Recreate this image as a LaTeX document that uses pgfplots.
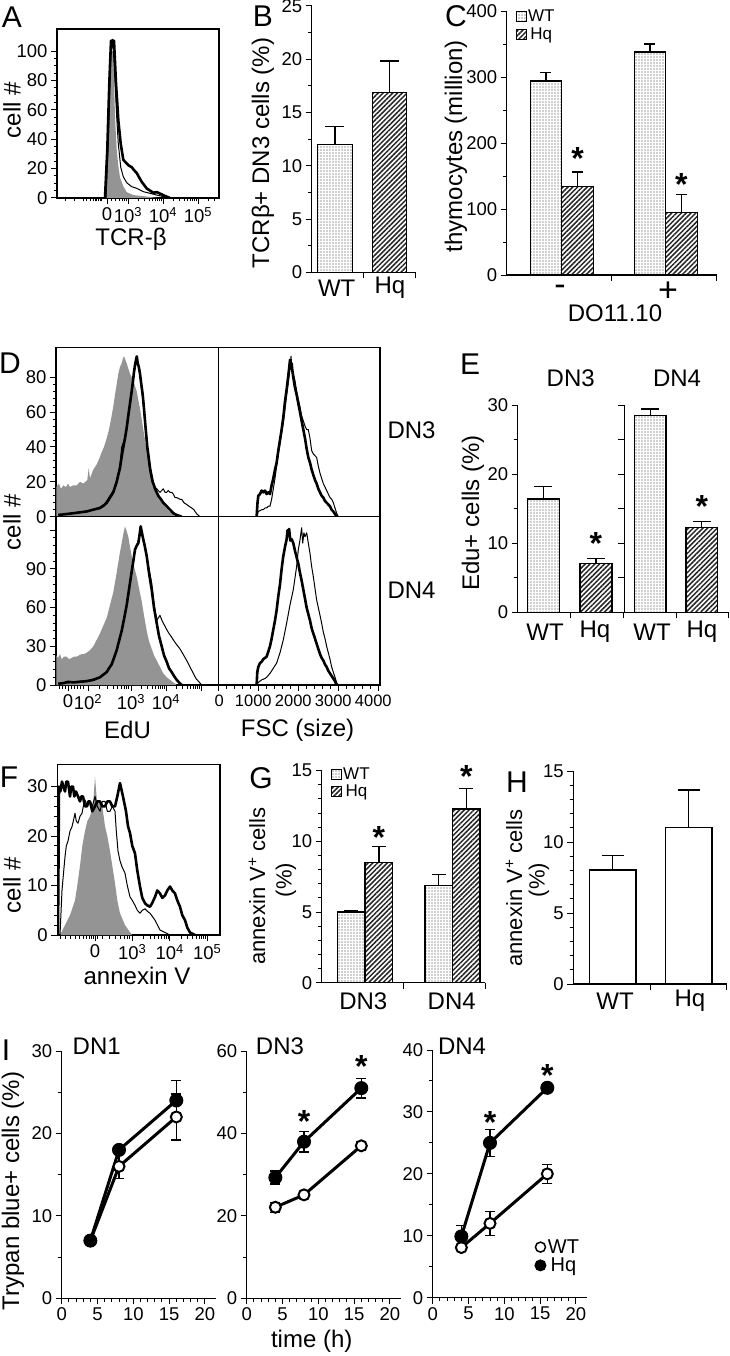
\documentclass[border=0pt]{standalone}
\usepackage{fontspec}
\setmainfont{Liberation Sans}
\usepackage{pgfplots}
\pgfplotsset{compat=1.18}
\usetikzlibrary{patterns.meta}
\newcommand{\tk}{\fontsize{18.5}{20}\selectfont}
\newcommand{\tks}{\fontsize{16.5}{18}\selectfont}
\newcommand{\lab}{\fontsize{24}{26}\selectfont}
\newcommand{\labs}{\fontsize{22}{24}\selectfont}
\newcommand{\pl}{\fontsize{30}{32}\selectfont}
\newcommand{\lgd}{\fontsize{17}{18}\selectfont}
\newcommand{\st}{\fontsize{32}{32}\selectfont\bfseries}
\tikzset{
 wt/.style={pattern={Dots[distance=3pt,radius=0.6pt]}, pattern color=black!80},
 hq/.style={pattern={Lines[angle=45,distance=3.4pt,line width=1.5pt]}, pattern color=black!85},
}
\pgfplotsset{
 myax/.style={scale only axis, clip=false, axis line style={line width=1.3pt}, tick style={line width=1pt, black}, major tick length=6pt, minor tick length=3.5pt, tick align=outside, tick label style={font=\tk}, /pgf/number format/assume math mode=true, anchor=south west},
 barax/.style={myax, axis x line*=bottom, axis y line*=left, xmin=0, xmax=2, ymin=0, xtick={1,2}, xticklabels={}},
 histax/.style={myax, axis line style={line width=1.5pt}, xtick pos=left, ytick pos=left, xmin=0, ymin=0, clip=true},
 barplot/.style={ybar, bar shift=0pt, draw=black, line width=1.3pt, forget plot, error bars/y dir=plus, error bars/y explicit, error bars/error bar style={line width=1.3pt, black, solid}},
 cap/.style={error bars/error mark options={rotate=90, mark size=#1, line width=1.3pt, black}},
 gr/.style={fill=black!42, draw=none, forget plot},
 thk/.style={black, line width=2.6pt, line join=round, forget plot},
 thn/.style={black, line width=1pt, line join=round, forget plot},
 lineax/.style={myax, axis x line*=bottom, axis y line*=left, xmin=0, xmax=21.5, ymin=0, xtick={0,5,...,20}, minor x tick num=4, minor y tick num=1, width=154pt},
 wtl/.style={black, line width=3pt, forget plot, mark=*, mark size=5.5pt, mark options={fill=white, draw=black, line width=2pt, solid}, error bars/y dir=both, error bars/y explicit, error bars/error bar style={line width=1.3pt, black}, error bars/error mark options={rotate=90, mark size=5pt, line width=1.3pt, black}},
 hql/.style={wtl, mark size=6.5pt, mark options={fill=black, draw=black, line width=1pt, solid}},
 barlegend/.style={legend style={at={#1}, anchor=north west, draw=none, fill=none, font=\lgd, row sep=2.5pt, nodes={inner sep=1pt}, /tikz/every even column/.append style={column sep=3pt}}},
}
\begin{document}
\begin{tikzpicture}
\path[use as bounding box] (0pt,0pt) rectangle (729pt,-1356pt);

% ---------------- A ----------------
\begin{axis}[histax, at={(57pt,-198pt)}, width=162pt, height=169pt, xmax=162, ymax=115,
  ytick={0,20,...,100}, minor y tick num=3,
  xtick={50,71,106,141}, xticklabels={0,10\textsuperscript{3},10\textsuperscript{4},10\textsuperscript{5}},
  minor xtick={8,17.7,26.3,29.7,33,36.3,38,39.7,41.3,43,44.7,54,58,62,65,67.5,69.5,81.5,87.7,92.1,95.5,98.2,100.6,102.6,104.4,116.5,122.7,127.1,130.5,133.2,135.6,137.6,139.4,151.5,157.7}]
\addplot[gr] coordinates {(49,0)(51.3,44)(53,89)(54.7,100)(56.3,100)(58,55)(59.7,33)(61.3,22)(63,14)(66.3,8)(69.7,4)(76.3,2)(89.7,1)(99.7,0)} \closedcycle;
\addplot[thn] coordinates {(49,0)(51.3,39)(53.7,96)(55.7,108)(57.3,89)(59.7,55)(61.3,37)(63.7,21)(66.3,14.5)(69.7,10.4)(74.7,7.7)(79.7,6.6)(86.3,4.3)(93,3.2)(99.7,2)(106.3,1)(111.3,0)};
\addplot[thk] coordinates {(48,0)(50.3,33)(52.3,78)(54,107)(57,107)(59,78)(61.3,53)(63.7,37)(66.3,26)(69.7,23.5)(72,22)(74.7,21)(77,19)(79.7,17)(84.7,11)(89.7,6.5)(96.3,3.6)(100,4)(103,3)(108,1.4)(113,0)};
\end{axis}
\node[font=\pl] at (12pt,-17pt) {A};
\node[font=\lab, rotate=90] at (12pt,-110pt) {cell \#};
\node[font=\lab] at (131pt,-239pt) {TCR-β};

% ---------------- B ----------------
\begin{axis}[barax, at={(311.7pt,-272.3pt)}, width=103.3pt, height=266.3pt, ymax=25, ytick={0,5,...,25}, minor y tick num=1]
\addplot[barplot, wt, bar width=0.68, cap=9.5pt] coordinates {(0.45,12) +- (0,1.67)};
\addplot[barplot, hq, bar width=0.66, cap=9.5pt] coordinates {(1.51,16.9) +- (0,2.95)};
\end{axis}
\node[font=\pl] at (263pt,-16pt) {B};
\node[font=\lab, rotate=90] at (263pt,-153pt) {TCRβ+ DN3 cells (\%)};
\node[font=\lab] at (336.7pt,-288pt) {WT};
\node[font=\lab] at (390pt,-288pt) {Hq};

% ---------------- C ----------------
\begin{axis}[barax, at={(506.7pt,-275pt)}, width=210pt, height=264pt, ymax=400, ytick={0,100,...,400}, minor y tick num=1,
  barlegend={(0.03,1.015)}]
\addlegendimage{legend image code/.code={\draw[black, line width=0.8pt, wt] (0pt,-5pt) rectangle (10pt,5pt);}}
\addlegendentry{WT}
\addlegendimage{legend image code/.code={\draw[black, line width=0.8pt, hq] (0pt,-5pt) rectangle (10pt,5pt);}}
\addlegendentry{Hq}
\addplot[barplot, wt, bar width=0.30, cap=5.5pt] coordinates {(0.374,294) +- (0,12.5) (1.364,338) +- (0,12)};
\addplot[barplot, hq, bar width=0.30, cap=5.5pt] coordinates {(0.674,134) +- (0,22) (1.664,95) +- (0,27)};
\node[font=\st, inner sep=0pt] at (axis cs:0.674,176) {*};
\node[font=\st, inner sep=0pt] at (axis cs:1.664,137) {*};
\end{axis}
\node[font=\pl] at (456pt,-16pt) {C};
\node[font=\lab, rotate=90] at (456pt,-146pt) {thymocytes (million)};
\node[font=\fontsize{34}{34}\selectfont] at (560pt,-290pt) {-};
\node[font=\fontsize{34}{34}\selectfont] at (668pt,-292pt) {+};
\node[font=\lab] at (615pt,-313pt) {DO11.10};

% ---------------- D ----------------
\begin{axis}[histax, at={(56pt,-516.7pt)}, width=162.3pt, height=169.4pt, xmax=162.3, ymax=97.2,
  ytick={0,20,...,80}, minor y tick num=4, xtick=\empty]
\addplot[gr] coordinates {(0.3,17)(3,19)(5,16)(7.3,18)(10,17)(12,19)(14,17)(17,18)(20.7,18)(24,20)(27.3,19)(31.3,21)(32.7,28)(34,22)(37.3,27)(40.7,30)(43,33)(45.7,37)(48,40)(50.7,45)(53,50)(55.7,58)(57.5,64)(59,70)(60.7,76)(62.3,82)(64,86)(65.7,88)(67,91)(68,92)(69.3,90)(70.7,88)(72.3,85)(74,82)(75.7,80)(77.3,78)(79,75)(80.7,72)(82.3,67)(84,62)(85.7,56)(87.3,50)(89,44)(90.7,38)(92.3,33)(94,28)(95.7,24)(97.3,20)(99,17)(100.7,14)(104,10)(106.5,8)(109,6)(111.5,4)(114,3)(117,2)(119,1)(122.3,0)} \closedcycle;
\addplot[thn] coordinates {(2.3,1)(10,1.2)(17.3,2)(24,2.8)(30.7,3.2)(37,4)(44,5.5)(48,7)(50.7,9)(54,12)(57.3,15)(60.7,21)(62.3,25)(64,30)(65.7,40)(67,42)(68.5,44)(70.7,50)(72.3,57)(74,64)(75.7,71)(77,77)(78,82)(79,86)(80,89)(81,91)(81.7,89)(83,85)(84,81)(85.3,75)(86.7,68)(88,60)(89,53)(90.2,45)(91.3,38)(92.7,31)(94,26)(95.3,22)(96.7,19)(98,18)(99,17)(100.7,16)(102.3,15)(104,14)(105.7,15)(107.3,16)(109,14)(110.7,14)(112.3,15)(114,14)(115.7,14)(117.3,13)(119,11)(120.7,11)(122.3,10.5)(124,10)(125.7,10)(128,8)(130.7,7)(133,6)(135.7,5)(138,4)(139,3)(141,1.5)(144,0)};
\addplot[thk] coordinates {(2.3,1)(10,1.5)(17.3,2)(24,2.5)(30.7,3)(37,4)(44,5)(48,6.5)(50.7,8)(54,11)(57.3,14)(59,17)(60.7,20)(62.3,24)(64,28)(65.3,33)(66.7,38)(68,42)(69,45)(70.7,51)(72.3,58)(74,65)(75.7,72)(77,78)(78,83)(79,87)(80,90)(80.8,92)(81.7,88)(82.8,86)(84,82)(85.3,76)(86.7,70)(88,62)(89,55)(90.2,47)(91.3,40)(92.7,34)(94,28)(95.3,24)(96.7,20)(98,18)(99,16)(100.7,14)(102.3,12)(105,10)(107.3,8)(110,6.5)(112.3,5)(115,3.5)(117.3,2)(120.7,1)(125.7,0)};
\end{axis}
\begin{axis}[histax, at={(218.3pt,-516.7pt)}, width=161.7pt, height=169.4pt, xmax=4042, ymax=97.2, ytick=\empty, xtick=\empty]
\addplot[thn] coordinates {(958,0)(1000,3)(1042,3.5)(1083,4)(1125,4)(1167,5)(1208,5)(1250,6)(1292,6)(1333,10)(1375,16)(1417,22)(1458,29)(1500,36)(1542,42)(1583,48)(1625,54)(1667,62)(1708,70)(1750,77)(1790,85)(1817,92)(1840,86)(1875,82)(1917,78)(1958,72)(2000,67)(2042,63)(2083,58)(2125,55)(2167,52)(2208,50)(2250,50)(2292,45)(2333,38)(2375,36)(2417,35)(2458,34)(2500,29)(2542,25)(2583,22)(2625,19)(2667,17)(2708,15)(2750,13)(2792,11)(2833,10)(2875,8)(2917,5)(2958,2)(3000,0)};
\addplot[thk] coordinates {(958,0)(980,8)(1000,12)(1042,13)(1083,15)(1125,14)(1167,15)(1208,13)(1250,14)(1292,13)(1333,18)(1375,22)(1417,27)(1458,31)(1500,38)(1542,44)(1583,50)(1625,57)(1667,66)(1708,73)(1750,81)(1775,86)(1792,90)(1810,85)(1833,88)(1850,84)(1875,80)(1917,74)(1958,70)(2000,65)(2042,60)(2083,55)(2125,50)(2167,45)(2208,39)(2250,34)(2292,31)(2333,27)(2375,24)(2417,21)(2458,19)(2500,16)(2542,14)(2583,12)(2625,11)(2667,9)(2708,8)(2750,7)(2792,6)(2833,4)(2875,3)(2917,1.5)(2958,0)};
\end{axis}
\begin{axis}[histax, at={(56pt,-685pt)}, width=162.3pt, height=168.3pt, xmax=162.3, ymax=130.5,
  ytick={0,30,...,120}, yticklabels={0,30,60,90,}, minor y tick num=4,
  xtick={12,32,75,110,145}, xticklabels={0,10\textsuperscript{2},10\textsuperscript{3},10\textsuperscript{4},},
  minor xtick={3,6,9,15,18,21,24,27,43.5,51.5,57.1,61.5,65,68,70.6,72.9,85.5,91.7,96.1,99.5,102.2,104.6,106.6,108.4,120.5,126.7,131.1,134.5,137.2,139.6,141.6,143.4}]
\addplot[gr] coordinates {(0.3,23)(2,21)(4,24)(5.7,20)(8,22)(10.7,22)(13,20)(15.7,21)(18,22)(20.7,22)(23,23)(25.7,24)(28,24)(30.7,25)(34,27)(37.3,30)(40.7,35)(44,40)(47.3,46)(50.7,52)(54,62)(57.3,72)(60,84)(62.3,95)(64,103)(65.7,110)(67.3,117)(69,123)(70.7,119)(72.3,115)(74,107)(75.7,100)(78,92)(80.7,84)(83,75)(85.7,65)(88,54)(90.7,42)(93,34)(95.7,28)(98,23)(100.7,19)(104,14)(107.3,9)(110.7,6)(114,4)(117.3,2)(120.7,0)} \closedcycle;
\addplot[thn] coordinates {(2.3,1)(8,2)(12,1.5)(17.3,2.5)(24,3)(30.7,3)(37.3,4.5)(44,6)(47.3,8.5)(50.7,10)(53,13)(55.7,17)(58,22)(60.7,27)(63,34)(65.7,43)(68,52)(70.7,63)(73,75)(75.7,88)(77.5,96)(79,104)(80.7,109)(82.3,111)(83.5,117)(84.7,122)(85.7,118)(86.7,114)(88.7,107)(90.7,100)(93,90)(95.7,79)(98,63)(100.7,50)(102.3,52)(104,54)(106,50)(108,47)(110.7,43)(113,40)(115.7,37)(117.3,35)(120,32)(122,30)(124,28)(127,24)(130.7,19)(134,14)(137.3,9)(140,5)(142.3,3)(145.7,0)};
\addplot[thk] coordinates {(2.3,1)(8,1.5)(12,2.5)(17.3,2)(24,2.5)(30.7,3)(37.3,4)(44,6)(47.3,8)(50.7,10)(53,13)(55.7,16)(58,21)(60.7,27)(63,34)(65.7,42)(68,51)(70.7,62)(73,74)(75.7,88)(77.5,97)(79,105)(80.7,108)(82.3,110)(83.5,116)(84.7,123)(85.7,119)(86.7,115)(88.7,108)(90.7,100)(93,87)(95.7,74)(98,60)(100.7,48)(103,38)(105.7,30)(108,23)(110.7,18)(113,13)(115.7,10)(118,7)(120.7,4)(123,2)(125.7,0)};
\end{axis}
\begin{axis}[histax, at={(218.3pt,-685pt)}, width=161.7pt, height=168.3pt, xmax=4042, ymax=130.5, ytick=\empty,
  xtick={0,1000,...,4000}, xticklabels={\hspace*{12pt}0,1000,2000,3000,4000}, xticklabel style={xshift=-5pt, font=\tks}, minor x tick num=4]
\addplot[thn] coordinates {(958,0)(1000,2)(1083,4)(1167,5)(1208,6)(1292,9)(1375,13)(1458,17)(1542,25)(1625,35)(1708,48)(1750,55)(1792,62)(1833,68)(1875,74)(1917,83)(1958,92)(2000,105)(2040,112)(2083,122)(2110,110)(2140,118)(2167,115)(2210,118)(2250,110)(2292,102)(2333,92)(2375,84)(2417,75)(2458,66)(2500,60)(2542,54)(2583,48)(2625,41)(2667,36)(2708,30)(2750,25)(2792,20)(2833,14)(2875,10)(2917,6)(2958,2)(2990,0)};
\addplot[thk] coordinates {(958,0)(975,10)(1000,14)(1042,17)(1083,18)(1125,20)(1167,21)(1208,22)(1250,26)(1292,30)(1333,36)(1375,43)(1417,50)(1458,58)(1500,69)(1542,78)(1583,90)(1625,100)(1667,107)(1708,113)(1730,120)(1750,116)(1770,121)(1800,112)(1833,113)(1875,110)(1917,104)(1958,99)(2000,94)(2042,87)(2083,81)(2125,74)(2167,67)(2208,60)(2250,55)(2292,50)(2333,44)(2375,40)(2417,36)(2458,32)(2500,28)(2542,24)(2583,21)(2625,19)(2667,16)(2708,14)(2750,11)(2792,9)(2833,7)(2875,5)(2917,3)(2958,0)};
\end{axis}
\node[font=\pl] at (10pt,-363pt) {D};
\node[font=\lab, rotate=90] at (12pt,-522pt) {cell \#};
\node[font=\lab, anchor=west] at (384pt,-430pt) {DN3};
\node[font=\lab, anchor=west] at (384pt,-590pt) {DN4};
\node[font=\lab] at (127.5pt,-730pt) {EdU};
\node[font=\lab] at (297.5pt,-730pt) {FSC (size)};

% ---------------- E ----------------
\begin{axis}[barax, at={(517.7pt,-612.3pt)}, width=105.6pt, height=207.3pt, ymax=30, ytick={0,10,20,30}, minor y tick num=1]
\addplot[barplot, wt, bar width=0.606, cap=9pt] coordinates {(0.485,16.4) +- (0,1.8)};
\addplot[barplot, hq, bar width=0.606, cap=9pt] coordinates {(1.48,7.1) +- (0,0.7)};
\node[font=\st, inner sep=0pt] at (axis cs:1.48,10.0) {*};
\end{axis}
\begin{axis}[barax, at={(624.3pt,-612.3pt)}, width=103.7pt, height=207.3pt, ymax=30, ytick={0,5,...,30}, yticklabels={}]
\addplot[barplot, wt, bar width=0.61, cap=9pt] coordinates {(0.5,28.5) +- (0,0.9)};
\addplot[barplot, hq, bar width=0.61, cap=9pt] coordinates {(1.495,12.3) +- (0,0.8)};
\node[font=\st, inner sep=0pt] at (axis cs:1.495,15.3) {*};
\end{axis}
\node[font=\pl] at (470pt,-364pt) {E};
\node[font=\lab] at (570.7pt,-378pt) {DN3};
\node[font=\lab] at (677pt,-378pt) {DN4};
\node[font=\lab, rotate=90] at (473pt,-513pt) {Edu+ cells (\%)};
\node[font=\lab] at (545pt,-632pt) {WT};
\node[font=\lab] at (595pt,-632pt) {Hq};
\node[font=\lab] at (652pt,-632pt) {WT};
\node[font=\lab] at (702pt,-632pt) {Hq};

% ---------------- F ----------------
\begin{axis}[histax, at={(57.3pt,-935pt)}, width=162.7pt, height=170.7pt, xmax=162.7, ymax=34.5,
  ytick={0,10,20,30}, minor y tick num=4,
  xtick={37.7,75,112.5,150}, xticklabels={0,10\textsuperscript{3},10\textsuperscript{4},10\textsuperscript{5}},
  minor xtick={3,8,13,18,22,26,29,32,34,36,40,45,52,58,63,67,70,72.5,86.3,92.9,97.6,101.2,104.2,106.7,108.9,110.8,123.8,130.4,135.1,138.7,141.7,144.2,146.4,148.3}]
\addplot[gr] coordinates {(2.7,0)(7.7,2)(12.7,4)(17.7,7)(20,10)(22.7,14)(25,18)(27.7,21)(30,23)(32.7,24)(35.7,26)(37.7,32)(39.7,27)(42.7,27)(45,26)(47.7,22)(50,20)(52.7,17)(55,14)(57.7,10.5)(60,7)(62.7,4.4)(67.7,2)(74.7,0)} \closedcycle;
\addplot[thn] coordinates {(2.7,0)(4.7,9)(6,12)(7.7,15.8)(9,18)(10.7,19)(12.7,21)(14.7,21.9)(16,23)(17.7,24.6)(19,23)(20.7,22.6)(22.7,24)(24.7,24.6)(26,26)(27.7,27.3)(30,26)(32.7,27)(35,26)(37.7,28)(40,26)(42.7,25)(45,27)(47.7,27)(50,25)(52.7,25)(55,26)(57.7,25)(59,21)(60.7,17)(62.7,15)(64.7,13.8)(67.7,12.5)(70,10)(72.7,7.7)(75,7)(77.7,6)(80,5)(82.7,4.4)(85,5)(87.7,5.3)(90,4.8)(92.7,4.4)(97.7,3)(102.7,1)(112.7,0)};
\addplot[thk] coordinates {(0.7,0)(1.7,30)(3,29)(4.7,31)(6,30)(7.7,29)(9,31)(10.7,31)(12.7,28)(14,30)(15.7,30)(17,28)(18.7,29)(20.7,28)(22.7,27)(24,28)(25.7,28)(27.7,26)(29.7,26)(31,27)(32.7,27)(35,25)(37.7,26)(40,27)(42.7,27)(45,26)(47.7,26)(50,27)(52.7,27)(55,26)(57.7,26)(60,28)(62.7,30.7)(65.7,28)(68.7,25)(70.7,22)(72.7,20.6)(75,18)(77.7,16.5)(80,13)(82.7,9.8)(85,7.5)(87.7,6.4)(90,6)(92.7,5.7)(95,6.5)(97.7,7.7)(100,9)(102.7,8.4)(105,7.5)(107.7,8)(110,9)(112.7,9.8)(115,9)(117.7,8.4)(120,7)(122.7,5.7)(125,4)(127.7,3)(130,1.5)(132.7,0.5)(137.7,0)};
\end{axis}
\node[font=\pl] at (9pt,-777pt) {F};
\node[font=\lab, rotate=90] at (12pt,-885pt) {cell \#};
\node[font=\lab] at (137pt,-976pt) {annexin V};

% ---------------- G ----------------
\begin{axis}[barax, at={(321.7pt,-982.7pt)}, width=163.3pt, height=212pt, ymax=15, ytick={0,5,10,15}, minor y tick num=4,
  barlegend={(0.04,1.03)}]
\addlegendimage{legend image code/.code={\draw[black, line width=0.8pt, wt] (0pt,-5pt) rectangle (10pt,5pt);}}
\addlegendentry{WT}
\addlegendimage{legend image code/.code={\draw[black, line width=0.8pt, hq] (0pt,-5pt) rectangle (10pt,5pt);}}
\addlegendentry{Hq}
\addplot[barplot, wt, bar width=0.339, cap=7pt] coordinates {(0.361,5.0) +- (0,0.1) (1.434,6.9) +- (0,0.74)};
\addplot[barplot, hq, bar width=0.339, cap=7pt] coordinates {(0.70,8.52) +- (0,1.1) (1.771,12.29) +- (0,1.46)};
\node[font=\st, inner sep=0pt] at (axis cs:0.70,10.24) {*};
\node[font=\st, inner sep=0pt] at (axis cs:1.771,14.6) {*};
\end{axis}
\node[font=\pl] at (261pt,-778pt) {G};
\node[font=\labs, rotate=90] at (257pt,-886pt) {annexin V\textsuperscript{+} cells};
\node[font=\labs, rotate=90] at (286pt,-880pt) {(\%)};
\node[font=\lab] at (363.3pt,-1001pt) {DN3};
\node[font=\lab] at (451.7pt,-1001pt) {DN4};

% ---------------- H ----------------
\begin{axis}[barax, at={(573.3pt,-984pt)}, width=153.4pt, height=213pt, ymax=15, ytick={0,5,10,15}, minor y tick num=4]
\addplot[barplot, fill=white, bar width=0.609, cap=11pt] coordinates {(0.514,8.03) +- (0,1.0) (1.504,11.0) +- (0,2.66)};
\end{axis}
\node[font=\pl] at (517pt,-782pt) {H};
\node[font=\labs, rotate=90] at (514pt,-888pt) {annexin V\textsuperscript{+} cells};
\node[font=\labs, rotate=90] at (539pt,-880pt) {(\%)};
\node[font=\lab] at (615pt,-1001pt) {WT};
\node[font=\lab] at (690pt,-1001pt) {Hq};

% ---------------- I ----------------
\begin{axis}[lineax, at={(61.7pt,-1298.3pt)}, height=247.3pt, ymax=30, ytick={0,10,20,30}]
\addplot[wtl] coordinates {(4,7) +- (0,0) (8,16) +- (0,1.5) (16,22) +- (0,2.8)};
\addplot[hql] coordinates {(4,7) +- (0,0) (8,18) +- (0,0.5) (16,24) +- (0,2.4)};
\end{axis}
\begin{axis}[lineax, at={(246.7pt,-1298.3pt)}, height=247.3pt, ymax=60, ytick={0,20,40,60}]
\addplot[wtl] coordinates {(4,22.1) +- (0,1.2) (8,25.1) +- (0,0.6) (16,37) +- (0,1.0)};
\addplot[hql] coordinates {(4,29.3) +- (0,1.6) (8,38) +- (0,2.5) (16,51) +- (0,2.4)};
\node[font=\st, inner sep=0pt] at (axis cs:8,42.9) {*};
\node[font=\st, inner sep=0pt] at (axis cs:16,56.2) {*};
\end{axis}
\begin{axis}[lineax, at={(432.7pt,-1297.7pt)}, height=247.7pt, ymax=40, ytick={0,10,...,40},
  legend style={at={(0.64,0.25)}, anchor=north west, draw=none, fill=none, font=\fontsize{20}{22}\selectfont, row sep=0pt, nodes={inner sep=1.5pt}}]
\addlegendimage{legend image code/.code={\draw[black, line width=1.5pt, fill=white] (4pt,0pt) circle (5pt);}}
\addlegendentry{WT}
\addlegendimage{legend image code/.code={\draw[black, line width=1pt, fill=black] (4pt,0pt) circle (5.5pt);}}
\addlegendentry{Hq}
\addplot[wtl] coordinates {(4,8.1) +- (0,0.5) (8,12) +- (0,1.9) (16,20) +- (0,1.5)};
\addplot[hql] coordinates {(4,9.9) +- (0,1.8) (8,25) +- (0,2.2) (16,33.9) +- (0,0.5)};
\node[font=\st, inner sep=0pt] at (axis cs:8,28.3) {*};
\node[font=\st, inner sep=0pt] at (axis cs:16,35.9) {*};
\end{axis}
\node[font=\pl] at (6pt,-1050pt) {I};
\node[font=\lab, rotate=90] at (13pt,-1191pt) {Trypan blue+ cells (\%)};
\node[font=\lab] at (96.7pt,-1046.7pt) {DN1};
\node[font=\lab] at (280pt,-1046.7pt) {DN3};
\node[font=\lab] at (462pt,-1046.7pt) {DN4};
\node[font=\lab] at (311.7pt,-1341.7pt) {time (h)};
\end{tikzpicture}
\end{document}
